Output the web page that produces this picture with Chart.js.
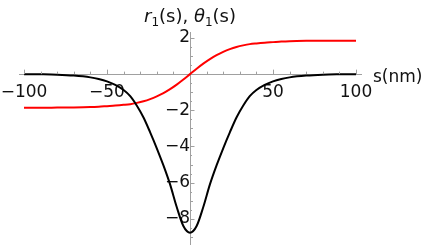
<!DOCTYPE html>
<html>
<head>
<meta charset="utf-8">
<script src="https://cdn.jsdelivr.net/npm/chart.js@4.4.1/dist/chart.umd.min.js"></script>
<style>
  html, body { margin: 0; padding: 0; background: #fff; }
  #wrap { width: 427px; height: 245px; }
</style>
</head>
<body>
<div id="wrap"><canvas id="chart"></canvas></div>
<script>
// positions along s (nm)
const sValues = [-100, -90, -80, -70, -60, -55, -50, -45, -40, -36, -32, -28, -24, -20, -16, -12, -8, -4,
  0, 4, 8, 12, 16, 20, 24, 28, 32, 36, 40, 45, 50, 55, 60, 70, 80, 90, 100];
// r1(s), black curve
const rValues = [0, -0.01, -0.03, -0.08, -0.18, -0.27, -0.4, -0.6, -0.88, -1.22, -1.75, -2.4, -3.22, -4.1, -5.05, -6.1, -7.35, -8.4,
  -8.77, -8.4, -7.35, -6.1, -5.05, -4.1, -3.22, -2.4, -1.75, -1.22, -0.88, -0.6, -0.4, -0.27, -0.18, -0.08, -0.03, -0.01, 0];
// theta1(s), red curve
const thetaValues = [-1.86, -1.86, -1.85, -1.84, -1.82, -1.8, -1.77, -1.74, -1.7, -1.66, -1.59, -1.5, -1.38, -1.23, -1.05, -0.83, -0.58, -0.3,
  0, 0.3, 0.58, 0.83, 1.05, 1.23, 1.38, 1.5, 1.59, 1.66, 1.7, 1.74, 1.77, 1.8, 1.82, 1.84, 1.85, 1.85, 1.85];
const xLabelTicks = [-100, -50, 50, 100];
const yLabelTicks = [2, -2, -4, -6, -8];

const FONT = 'DejaVu Sans';
const AXIS_GRAY = '#a0a0a0';

function toPoints(ys) {
  return sValues.map((s, i) => ({ x: s, y: ys[i] }));
}
function fmt(v) {
  return v < 0 ? '\u2212' + Math.abs(v) : String(v);
}
// axes sit inside the plot, so they should not reserve any room
function noRoom(scale) {
  scale.paddingLeft = scale.paddingRight = scale.paddingTop = scale.paddingBottom = 0;
  if (scale.isHorizontal()) scale.height = 0; else scale.width = 0;
}

// Mathematica-style tick marks pointing into the plot, plus axis labels
const decorations = {
  id: 'decorations',
  afterDraw(chart) {
    const ctx = chart.ctx;
    const xs = chart.scales.x, ys = chart.scales.y;
    const x0 = xs.getPixelForValue(0), y0 = ys.getPixelForValue(0);
    ctx.save();
    ctx.strokeStyle = AXIS_GRAY;
    ctx.lineWidth = 1;
    xs.ticks.forEach(t => {
      if (t.value === 0) return;
      const px = Math.round(xs.getPixelForValue(t.value)) + 0.5;
      const len = t.value % 50 === 0 ? 4.5 : 2.5;
      ctx.beginPath();
      ctx.moveTo(px, y0);
      ctx.lineTo(px, y0 - len);
      ctx.stroke();
    });
    ys.ticks.forEach(t => {
      if (Math.abs(t.value) < 1e-9) return;
      const py = Math.round(ys.getPixelForValue(t.value)) + 0.5;
      const len = Math.abs(t.value % 2) < 1e-9 ? 4.5 : (Number.isInteger(t.value) ? 3 : 2);
      ctx.beginPath();
      ctx.moveTo(x0, py);
      ctx.lineTo(x0 + len, py);
      ctx.stroke();
    });

    ctx.fillStyle = '#111';
    ctx.textBaseline = 'alphabetic';
    // x axis label
    ctx.font = '17px "' + FONT + '"';
    ctx.textAlign = 'left';
    ctx.fillText('s(nm)', 373, y0 + 8);

    // y axis label: r1(s), θ1(s)
    const parts = [
      { t: 'r', f: 'italic 18px "' + FONT + '"', dy: 0 },
      { t: '1', f: '12px "' + FONT + '"', dy: 4 },
      { t: '(s), ', f: '18px "' + FONT + '"', dy: 0 },
      { t: '\u03b8', f: 'italic 18px "' + FONT + '"', dy: 0 },
      { t: '1', f: '12px "' + FONT + '"', dy: 4 },
      { t: '(s)', f: '18px "' + FONT + '"', dy: 0 }
    ];
    let total = 0;
    parts.forEach(p => { ctx.font = p.f; p.w = ctx.measureText(p.t).width; total += p.w; });
    let cx = x0 - total / 2;
    parts.forEach(p => {
      ctx.font = p.f;
      ctx.fillText(p.t, cx, 22 + p.dy);
      cx += p.w;
    });
    ctx.restore();
  }
};

new Chart(document.getElementById('chart'), {
  type: 'line',
  data: {
    datasets: [
      {
        label: 'r1',
        data: toPoints(rValues),
        borderColor: '#000000',
        borderWidth: 2,
        pointRadius: 0,
        cubicInterpolationMode: 'monotone',
        fill: false
      },
      {
        label: 'theta1',
        data: toPoints(thetaValues),
        borderColor: '#ff0000',
        borderWidth: 2,
        pointRadius: 0,
        cubicInterpolationMode: 'monotone',
        fill: false
      }
    ]
  },
  options: {
    responsive: true,
    maintainAspectRatio: false,
    animation: false,
    events: [],
    layout: { padding: { left: 19, right: 66, top: 32, bottom: 0 } },
    plugins: { legend: { display: false }, tooltip: { enabled: false } },
    scales: {
      x: {
        type: 'linear',
        position: { y: 0 },
        min: -103,
        max: 103,
        afterFit: noRoom,
        grid: { display: true, drawOnChartArea: false, drawTicks: false },
        border: { display: true, color: AXIS_GRAY, width: 1 },
        ticks: {
          stepSize: 10,
          includeBounds: false,
          autoSkip: false,
          maxRotation: 0,
          padding: 8,
          color: '#111',
          font: { family: FONT, size: 17 },
          callback: v => (xLabelTicks.includes(v) ? fmt(v) : '')
        }
      },
      y: {
        type: 'linear',
        position: { x: 0 },
        min: -9.45,
        max: 2.33,
        afterFit: noRoom,
        grid: { display: true, drawOnChartArea: false, drawTicks: false },
        border: { display: true, color: AXIS_GRAY, width: 1 },
        ticks: {
          stepSize: 0.5,
          includeBounds: false,
          autoSkip: false,
          padding: 5,
          color: '#111',
          font: { family: FONT, size: 17 },
          callback: v => (yLabelTicks.includes(v) ? fmt(v) : '')
        }
      }
    }
  },
  plugins: [decorations]
});
</script>
</body>
</html>
